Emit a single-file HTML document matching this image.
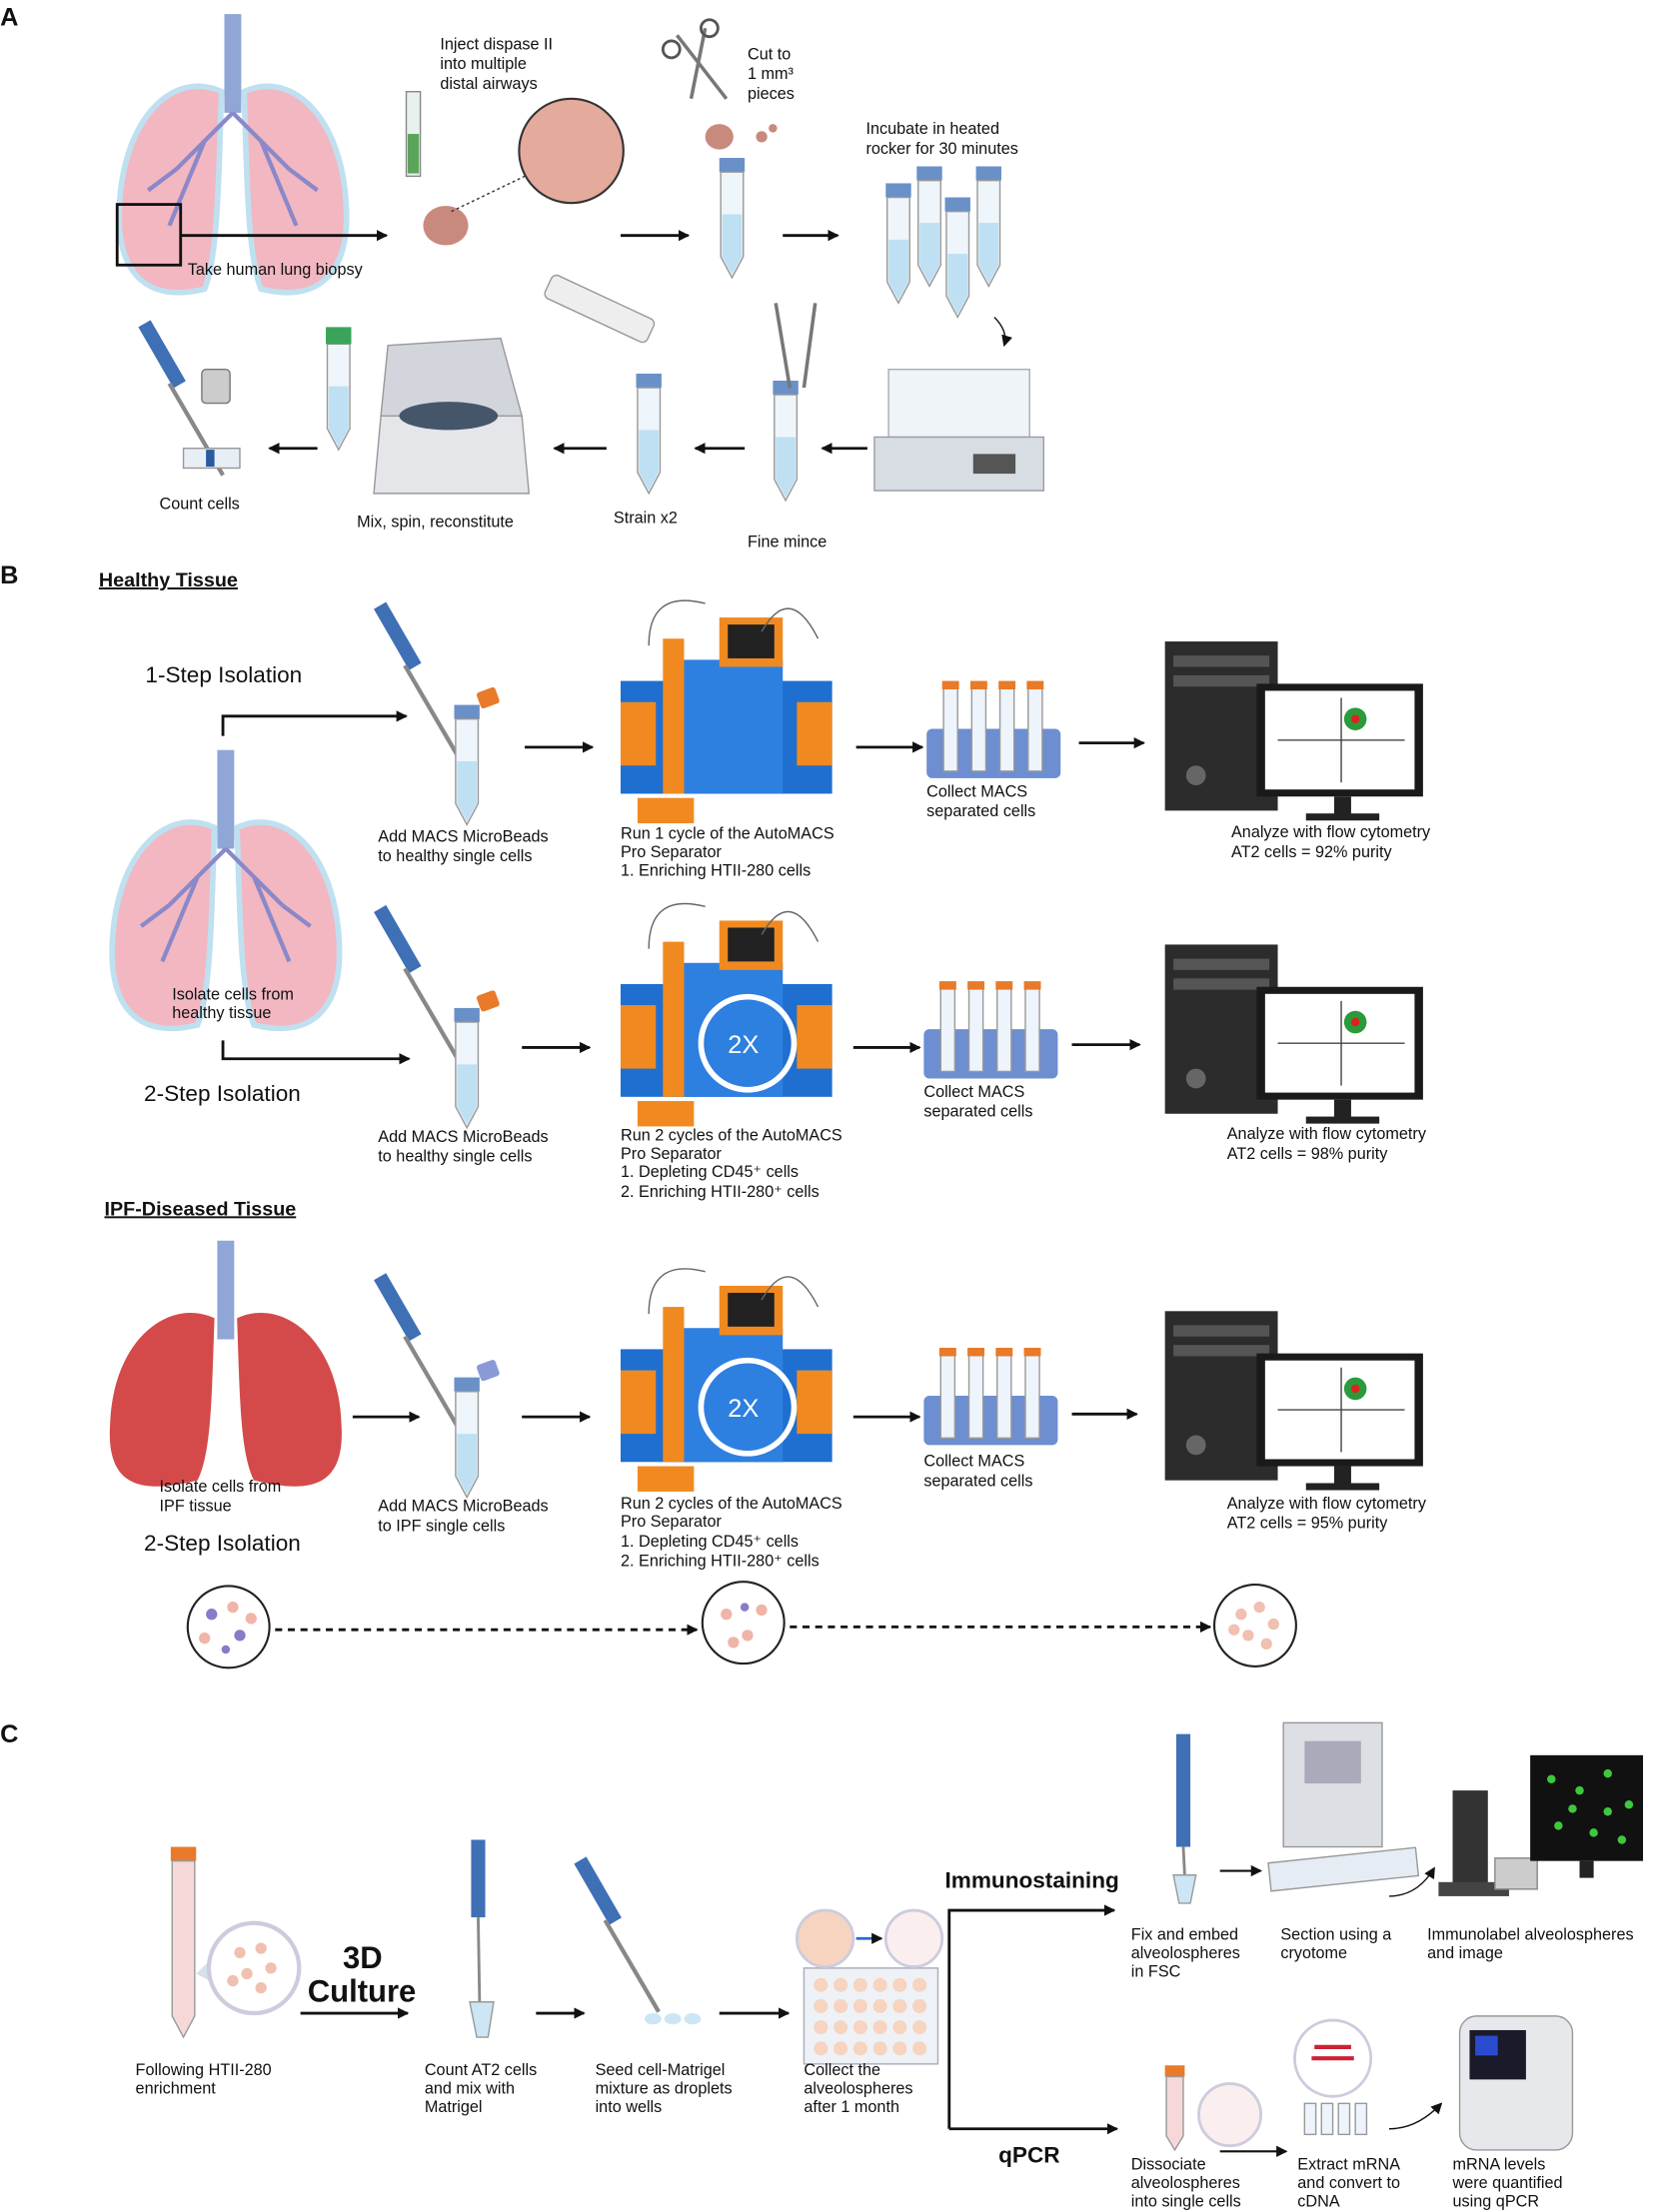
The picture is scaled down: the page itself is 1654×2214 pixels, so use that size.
<!DOCTYPE html>
<html><head><meta charset="utf-8"><style>
html,body{margin:0;padding:0;background:#fff;}
svg{display:block;}
text{font-family:"Liberation Sans",sans-serif;fill:#111;}
.t{font-size:11.5px;}
.h{font-size:16px;}
.b{font-weight:bold;}
</style></head><body>
<svg width="1654" height="2214" viewBox="0 0 1172 1569" xmlns="http://www.w3.org/2000/svg">
<defs>
<marker id="ar" markerWidth="8" markerHeight="8" refX="7" refY="4" orient="auto" markerUnits="userSpaceOnUse"><path d="M0,0 L8,4 L0,8 z" fill="#111"/></marker>
<g id="lung">
 <rect x="-6" y="0" width="12" height="70" fill="#8fa6d6"/>
 <path d="M-8,55 C-40,40 -75,70 -80,130 C-85,185 -60,205 -20,195 C-10,170 -10,110 -8,55z" fill="#f2b7c1" stroke="#bfe0f0" stroke-width="4"/>
 <path d="M8,55 C40,40 75,70 80,130 C85,185 60,205 20,195 C10,170 10,110 8,55z" fill="#f2b7c1" stroke="#bfe0f0" stroke-width="4"/>
 <path d="M0,70 L-40,110 M-20,90 L-45,150 M0,70 L40,110 M20,90 L45,150 M-40,110 L-60,125 M40,110 L60,125" stroke="#8a88c8" stroke-width="3" fill="none"/>
</g>
<g id="tube">
 <rect x="0" y="0" width="18" height="10" fill="#6a90c8"/>
 <path d="M1,10 L17,10 L17,70 L9,85 L1,70z" fill="#eef5fb" stroke="#999"/>
 <path d="M2,40 L16,40 L16,70 L9,83 L2,70z" fill="#bfe0f3"/>
</g>
<g id="pip">
 <rect x="0" y="0" width="10" height="50" fill="#3f6fb5" transform="rotate(-30)"/>
 <line x1="22" y1="40" x2="60" y2="105" stroke="#888" stroke-width="3"/>
</g>
<g id="mach">
 <rect x="0" y="45" width="150" height="80" fill="#1f6fd0"/>
 <rect x="35" y="30" width="80" height="95" fill="#2d7fe0"/>
 <rect x="0" y="60" width="25" height="45" fill="#f08a20"/>
 <rect x="125" y="60" width="25" height="45" fill="#f08a20"/>
 <rect x="70" y="0" width="45" height="35" fill="#f08a20"/><rect x="76" y="5" width="33" height="24" fill="#222"/>
 <rect x="30" y="15" width="15" height="110" fill="#f08a20"/>
 <rect x="12" y="128" width="40" height="18" fill="#f08a20"/>
 <path d="M20,20 Q20,-20 60,-10 M100,10 Q120,-25 140,15" stroke="#666" fill="none"/>
</g>
<g id="rack">
 <rect x="0" y="30" width="95" height="35" rx="4" fill="#6d8ed0"/>
 <g fill="#eef4fb" stroke="#999"><rect x="12" y="0" width="10" height="60"/><rect x="32" y="0" width="10" height="60"/><rect x="52" y="0" width="10" height="60"/><rect x="72" y="0" width="10" height="60"/></g>
 <g fill="#e87a2a"><rect x="11" y="-4" width="12" height="6"/><rect x="31" y="-4" width="12" height="6"/><rect x="51" y="-4" width="12" height="6"/><rect x="71" y="-4" width="12" height="6"/></g>
</g>
<g id="comp">
 <rect x="0" y="0" width="80" height="120" fill="#2c2c2c"/><rect x="6" y="10" width="68" height="8" fill="#555"/><rect x="6" y="24" width="68" height="8" fill="#555"/><circle cx="22" cy="95" r="7" fill="#666"/>
 <rect x="65" y="30" width="118" height="80" fill="#1a1a1a"/><rect x="71" y="35" width="106" height="70" fill="#fff"/>
 <line x1="80" y1="70" x2="170" y2="70" stroke="#444"/><line x1="125" y1="40" x2="125" y2="100" stroke="#444"/>
 <rect x="120" y="110" width="12" height="14" fill="#222"/><rect x="100" y="122" width="52" height="5" fill="#222"/>
 <circle cx="135" cy="55" r="8" fill="#2a9a3a"/><circle cx="135" cy="55" r="3" fill="#e02020"/>
</g>
</defs>

<!-- Section A -->
<text x="0" y="18" class="b" font-size="18">A</text>
<use href="#lung" x="165" y="10"/>
<rect x="83" y="145" width="45" height="43" fill="none" stroke="#111" stroke-width="2"/>
<line x1="128" y1="167" x2="274" y2="167" stroke="#111" stroke-width="2" marker-end="url(#ar)"/>
<text x="133" y="195" class="t">Take human lung biopsy</text>
<rect x="288" y="65" width="10" height="60" fill="#e8f0f0" stroke="#888"/><rect x="289" y="95" width="8" height="28" fill="#5aa55a"/>
<ellipse cx="316" cy="160" rx="16" ry="14" fill="#c98a7e"/>
<circle cx="405" cy="107" r="37" fill="#e4aa9c" stroke="#333" stroke-width="1.5"/>
<line x1="320" y1="150" x2="372" y2="125" stroke="#333" stroke-dasharray="2,2"/>
<text x="312" y="35" class="t">Inject dispase II</text><text x="312" y="49" class="t">into multiple</text><text x="312" y="63" class="t">distal airways</text>
<path d="M480,25 L515,70 M500,20 L490,70" stroke="#777" stroke-width="2.5"/><circle cx="476" cy="35" r="6" fill="none" stroke="#555" stroke-width="2"/><circle cx="503" cy="20" r="6" fill="none" stroke="#555" stroke-width="2"/>
<text x="530" y="42" class="t">Cut to</text><text x="530" y="56" class="t">1 mm³</text><text x="530" y="70" class="t">pieces</text>
<ellipse cx="510" cy="97" rx="10" ry="9" fill="#c98a7e"/><circle cx="540" cy="97" r="4" fill="#c98a7e"/><circle cx="548" cy="91" r="3" fill="#c98a7e"/>
<line x1="440" y1="167" x2="488" y2="167" stroke="#111" stroke-width="2" marker-end="url(#ar)"/>
<use href="#tube" x="510" y="112"/>
<line x1="555" y1="167" x2="594" y2="167" stroke="#111" stroke-width="2" marker-end="url(#ar)"/>
<text x="614" y="95" class="t">Incubate in heated</text><text x="614" y="109" class="t">rocker for 30 minutes</text>
<use href="#tube" x="650" y="118"/><use href="#tube" x="692" y="118"/><use href="#tube" x="628" y="130"/><use href="#tube" x="670" y="140"/>
<path d="M705,225 Q715,235 712,245" stroke="#111" fill="none" marker-end="url(#ar)"/>
<rect x="630" y="262" width="100" height="50" fill="#eef4f8" stroke="#aab"/><rect x="620" y="310" width="120" height="38" fill="#d8dde3" stroke="#99a"/><rect x="690" y="322" width="30" height="14" fill="#555"/>
<line x1="615" y1="318" x2="583" y2="318" stroke="#111" stroke-width="2" marker-end="url(#ar)"/>
<use href="#tube" x="548" y="270"/><path d="M560,275 L550,215 M570,275 L578,215" stroke="#777" stroke-width="2.5"/>
<text x="530" y="388" class="t">Fine mince</text>
<line x1="528" y1="318" x2="493" y2="318" stroke="#111" stroke-width="2" marker-end="url(#ar)"/>
<rect x="385" y="210" width="80" height="18" rx="4" fill="#eee" stroke="#999" transform="rotate(25 425 219)"/>
<use href="#tube" x="451" y="265"/>
<text x="435" y="371" class="t">Strain x2</text>
<line x1="430" y1="318" x2="393" y2="318" stroke="#111" stroke-width="2" marker-end="url(#ar)"/>
<path d="M270,295 L370,295 L375,350 L265,350z" fill="#e4e6ea" stroke="#999"/><path d="M275,245 L355,240 L370,295 L270,295z" fill="#d2d6dc" stroke="#999"/><ellipse cx="318" cy="295" rx="35" ry="10" fill="#46566a"/>
<use href="#tube" x="231" y="234"/><rect x="231" y="232" width="18" height="12" fill="#3aa55a"/>
<text x="253" y="374" class="t">Mix, spin, reconstitute</text>
<line x1="225" y1="318" x2="191" y2="318" stroke="#111" stroke-width="2" marker-end="url(#ar)"/>
<use href="#pip" x="98" y="232"/><rect x="143" y="262" width="20" height="24" rx="3" fill="#ccc" stroke="#777"/>
<rect x="130" y="318" width="40" height="14" fill="#e8eef5" stroke="#999"/><rect x="146" y="319" width="6" height="12" fill="#2a5aa0"/>
<text x="113" y="361" class="t">Count cells</text>

<!-- Section B -->
<text x="0" y="414" class="b" font-size="18">B</text>
<text x="70" y="416" class="b" font-size="14" text-decoration="underline">Healthy Tissue</text>
<text x="103" y="484" class="h">1-Step Isolation</text>
<use href="#lung" x="160" y="532"/>
<text x="122" y="709" class="t">Isolate cells from</text><text x="122" y="722" class="t">healthy tissue</text>
<path d="M158,522 L158,508 L288,508" stroke="#111" stroke-width="2" fill="none" marker-end="url(#ar)"/>
<path d="M158,738 L158,751 L290,751" stroke="#111" stroke-width="2" fill="none" marker-end="url(#ar)"/>
<text x="102" y="781" class="h">2-Step Isolation</text>

<use href="#pip" x="265" y="432"/><rect x="339" y="489" width="14" height="12" rx="2" fill="#e87a2a" transform="rotate(-20 346 495)"/><use href="#tube" x="322" y="500"/>
<line x1="372" y1="530" x2="420" y2="530" stroke="#111" stroke-width="2" marker-end="url(#ar)"/>
<use href="#mach" x="440" y="438"/>
<line x1="607" y1="530" x2="654" y2="530" stroke="#111" stroke-width="2" marker-end="url(#ar)"/>
<use href="#rack" x="657" y="487"/>
<line x1="765" y1="527" x2="811" y2="527" stroke="#111" stroke-width="2" marker-end="url(#ar)"/>
<use href="#comp" x="826" y="455"/>
<text x="268" y="597" class="t">Add MACS MicroBeads</text><text x="268" y="611" class="t">to healthy single cells</text>
<text x="440" y="595" class="t">Run 1 cycle of the AutoMACS</text><text x="440" y="608" class="t">Pro Separator</text><text x="440" y="621" class="t">1. Enriching HTII-280 cells</text>
<text x="657" y="565" class="t">Collect MACS</text><text x="657" y="579" class="t">separated cells</text>
<text x="873" y="594" class="t">Analyze with flow cytometry</text><text x="873" y="608" class="t">AT2 cells = 92% purity</text>

<use href="#pip" x="265" y="647"/><rect x="339" y="704" width="14" height="12" rx="2" fill="#e87a2a" transform="rotate(-20 346 710)"/><use href="#tube" x="322" y="715"/>
<line x1="370" y1="743" x2="418" y2="743" stroke="#111" stroke-width="2" marker-end="url(#ar)"/>
<use href="#mach" x="440" y="653"/>
<circle cx="530" cy="740" r="33" fill="none" stroke="#fff" stroke-width="4"/><text x="516" y="747" font-size="18" style="fill:#fff">2X</text>
<line x1="605" y1="743" x2="652" y2="743" stroke="#111" stroke-width="2" marker-end="url(#ar)"/>
<use href="#rack" x="655" y="700"/>
<line x1="760" y1="741" x2="808" y2="741" stroke="#111" stroke-width="2" marker-end="url(#ar)"/>
<use href="#comp" x="826" y="670"/>
<text x="268" y="810" class="t">Add MACS MicroBeads</text><text x="268" y="824" class="t">to healthy single cells</text>
<text x="440" y="809" class="t">Run 2 cycles of the AutoMACS</text><text x="440" y="822" class="t">Pro Separator</text><text x="440" y="835" class="t">1. Depleting CD45⁺ cells</text><text x="440" y="849" class="t">2. Enriching HTII-280⁺ cells</text>
<text x="655" y="778" class="t">Collect MACS</text><text x="655" y="792" class="t">separated cells</text>
<text x="870" y="808" class="t">Analyze with flow cytometry</text><text x="870" y="822" class="t">AT2 cells = 98% purity</text>

<text x="74" y="862" class="b" font-size="14" text-decoration="underline">IPF-Diseased Tissue</text>
<g transform="translate(160,880)">
 <rect x="-6" y="0" width="12" height="70" fill="#8fa6d6"/>
 <path d="M-8,55 C-40,40 -80,70 -82,130 C-85,175 -60,180 -20,170 C-10,150 -10,110 -8,55z" fill="#d44a4a"/>
 <path d="M8,55 C40,40 80,70 82,130 C85,175 60,180 20,170 C10,150 10,110 8,55z" fill="#d44a4a"/>
</g>
<text x="113" y="1058" class="t">Isolate cells from</text><text x="113" y="1072" class="t">IPF tissue</text>
<text x="102" y="1100" class="h">2-Step Isolation</text>
<line x1="250" y1="1005" x2="297" y2="1005" stroke="#111" stroke-width="2" marker-end="url(#ar)"/>
<use href="#pip" x="265" y="908"/><rect x="339" y="966" width="14" height="12" rx="2" fill="#8a9ad6" transform="rotate(-20 346 972)"/><use href="#tube" x="322" y="977"/>
<line x1="370" y1="1005" x2="418" y2="1005" stroke="#111" stroke-width="2" marker-end="url(#ar)"/>
<use href="#mach" x="440" y="912"/>
<circle cx="530" cy="998" r="33" fill="none" stroke="#fff" stroke-width="4"/><text x="516" y="1005" font-size="18" style="fill:#fff">2X</text>
<line x1="605" y1="1005" x2="652" y2="1005" stroke="#111" stroke-width="2" marker-end="url(#ar)"/>
<use href="#rack" x="655" y="960"/>
<line x1="760" y1="1003" x2="806" y2="1003" stroke="#111" stroke-width="2" marker-end="url(#ar)"/>
<use href="#comp" x="826" y="930"/>
<text x="268" y="1072" class="t">Add MACS MicroBeads</text><text x="268" y="1086" class="t">to IPF single cells</text>
<text x="440" y="1070" class="t">Run 2 cycles of the AutoMACS</text><text x="440" y="1083" class="t">Pro Separator</text><text x="440" y="1097" class="t">1. Depleting CD45⁺ cells</text><text x="440" y="1111" class="t">2. Enriching HTII-280⁺ cells</text>
<text x="655" y="1040" class="t">Collect MACS</text><text x="655" y="1054" class="t">separated cells</text>
<text x="870" y="1070" class="t">Analyze with flow cytometry</text><text x="870" y="1084" class="t">AT2 cells = 95% purity</text>
<circle cx="162" cy="1154" r="29" fill="#fff" stroke="#222" stroke-width="1.5"/>
<g fill="#8a7ac8"><circle cx="150" cy="1145" r="4"/><circle cx="170" cy="1160" r="4"/><circle cx="160" cy="1170" r="3"/></g><g fill="#f0b4a8"><circle cx="165" cy="1140" r="4"/><circle cx="145" cy="1162" r="4"/><circle cx="178" cy="1148" r="4"/></g>
<line x1="195" y1="1156" x2="494" y2="1156" stroke="#111" stroke-width="2" stroke-dasharray="5,4" marker-end="url(#ar)"/>
<circle cx="527" cy="1151" r="29" fill="#fff" stroke="#222" stroke-width="1.5"/>
<g fill="#f0b4a8"><circle cx="515" cy="1145" r="4"/><circle cx="530" cy="1160" r="4"/><circle cx="540" cy="1142" r="4"/><circle cx="520" cy="1165" r="4"/></g><circle cx="528" cy="1140" r="3" fill="#8a7ac8"/>
<line x1="560" y1="1154" x2="858" y2="1154" stroke="#111" stroke-width="2" stroke-dasharray="5,4" marker-end="url(#ar)"/>
<circle cx="890" cy="1153" r="29" fill="#fff" stroke="#222" stroke-width="1.5"/>
<g fill="#f0c0b0"><circle cx="880" cy="1145" r="4"/><circle cx="893" cy="1140" r="4"/><circle cx="903" cy="1152" r="4"/><circle cx="885" cy="1160" r="4"/><circle cx="898" cy="1166" r="4"/><circle cx="875" cy="1156" r="4"/></g>

<!-- Section C -->
<text x="0" y="1236" class="b" font-size="18">C</text>
<rect x="121" y="1310" width="18" height="10" fill="#e87a2a"/><path d="M122,1320 L138,1320 L138,1430 L130,1445 L122,1430z" fill="#f7d8d8" stroke="#999"/>
<path d="M139,1400 L160,1380 L162,1412z" fill="#bcd" opacity=".6"/>
<circle cx="180" cy="1396" r="32" fill="#fff" stroke="#ccd" stroke-width="3"/>
<g fill="#f0c0b0"><circle cx="170" cy="1385" r="4"/><circle cx="185" cy="1382" r="4"/><circle cx="192" cy="1396" r="4"/><circle cx="175" cy="1400" r="4"/><circle cx="185" cy="1410" r="4"/><circle cx="165" cy="1405" r="4"/></g>
<text x="96" y="1472" class="t">Following HTII-280</text><text x="96" y="1485" class="t">enrichment</text>
<text x="243" y="1396" class="b" font-size="22">3D</text><text x="218" y="1420" class="b" font-size="22">Culture</text>
<line x1="213" y1="1428" x2="289" y2="1428" stroke="#111" stroke-width="2" marker-end="url(#ar)"/>
<rect x="334" y="1305" width="10" height="55" fill="#3f6fb5"/><line x1="339" y1="1360" x2="340" y2="1420" stroke="#888" stroke-width="2"/>
<path d="M333,1420 L350,1420 L346,1445 L338,1445z" fill="#cde6f5" stroke="#999"/>
<text x="301" y="1472" class="t">Count AT2 cells</text><text x="301" y="1485" class="t">and mix with</text><text x="301" y="1498" class="t">Matrigel</text>
<line x1="380" y1="1428" x2="414" y2="1428" stroke="#111" stroke-width="2" marker-end="url(#ar)"/>
<use href="#pip" x="407" y="1322"/>
<g fill="#cde6f5"><ellipse cx="463" cy="1432" rx="6" ry="4"/><ellipse cx="477" cy="1432" rx="6" ry="4"/><ellipse cx="491" cy="1432" rx="6" ry="4"/></g>
<text x="422" y="1472" class="t">Seed cell-Matrigel</text><text x="422" y="1485" class="t">mixture as droplets</text><text x="422" y="1498" class="t">into wells</text>
<line x1="510" y1="1428" x2="559" y2="1428" stroke="#111" stroke-width="2" marker-end="url(#ar)"/>
<rect x="570" y="1396" width="95" height="68" fill="#eef2f6" stroke="#aab"/>
<g fill="#f6d4c0">
<circle cx="582" cy="1408" r="5"/><circle cx="596" cy="1408" r="5"/><circle cx="610" cy="1408" r="5"/><circle cx="624" cy="1408" r="5"/><circle cx="638" cy="1408" r="5"/><circle cx="652" cy="1408" r="5"/>
<circle cx="582" cy="1423" r="5"/><circle cx="596" cy="1423" r="5"/><circle cx="610" cy="1423" r="5"/><circle cx="624" cy="1423" r="5"/><circle cx="638" cy="1423" r="5"/><circle cx="652" cy="1423" r="5"/>
<circle cx="582" cy="1438" r="5"/><circle cx="596" cy="1438" r="5"/><circle cx="610" cy="1438" r="5"/><circle cx="624" cy="1438" r="5"/><circle cx="638" cy="1438" r="5"/><circle cx="652" cy="1438" r="5"/>
<circle cx="582" cy="1453" r="5"/><circle cx="596" cy="1453" r="5"/><circle cx="610" cy="1453" r="5"/><circle cx="624" cy="1453" r="5"/><circle cx="638" cy="1453" r="5"/><circle cx="652" cy="1453" r="5"/></g>
<circle cx="585" cy="1375" r="20" fill="#f6d4c0" stroke="#ccd" stroke-width="2"/><circle cx="648" cy="1375" r="20" fill="#fbeeee" stroke="#ccd" stroke-width="2"/>
<line x1="607" y1="1375" x2="625" y2="1375" stroke="#2a6acb" stroke-width="2" marker-end="url(#ar)"/>
<text x="570" y="1472" class="t">Collect the</text><text x="570" y="1485" class="t">alveolospheres</text><text x="570" y="1498" class="t">after 1 month</text>
<path d="M673,1510 L673,1355 L790,1355" stroke="#111" stroke-width="2" fill="none" marker-end="url(#ar)"/>
<path d="M673,1510 L792,1510" stroke="#111" stroke-width="2" fill="none" marker-end="url(#ar)"/>
<text x="670" y="1339" class="b" font-size="16">Immunostaining</text>
<text x="708" y="1534" class="b" font-size="16">qPCR</text>
<rect x="834" y="1230" width="10" height="80" fill="#3f6fb5"/><line x1="839" y1="1310" x2="840" y2="1330" stroke="#888" stroke-width="2"/><path d="M832,1330 L848,1330 L844,1350 L836,1350z" fill="#cde6f5" stroke="#999"/>
<text x="802" y="1376" class="t">Fix and embed</text><text x="802" y="1389" class="t">alveolospheres</text><text x="802" y="1402" class="t">in FSC</text>
<line x1="865" y1="1327" x2="894" y2="1327" stroke="#111" stroke-width="1.5" marker-end="url(#ar)"/>
<rect x="910" y="1222" width="70" height="88" fill="#dcdfe3" stroke="#999"/><rect x="925" y="1235" width="40" height="30" fill="#aab"/>
<rect x="900" y="1316" width="105" height="20" fill="#e6ecf3" stroke="#999" transform="rotate(-6 952 1326)"/>
<text x="908" y="1376" class="t">Section using a</text><text x="908" y="1389" class="t">cryotome</text>
<path d="M985,1345 Q1005,1345 1017,1325" stroke="#111" fill="none" marker-end="url(#ar)"/>
<rect x="1030" y="1270" width="25" height="70" fill="#333"/><rect x="1020" y="1335" width="50" height="10" fill="#444"/><rect x="1060" y="1318" width="30" height="22" fill="#ccc" stroke="#888"/>
<rect x="1085" y="1245" width="80" height="75" fill="#111"/>
<g fill="#3ec83e"><circle cx="1100" cy="1262" r="3"/><circle cx="1120" cy="1270" r="3"/><circle cx="1140" cy="1258" r="3"/><circle cx="1155" cy="1280" r="3"/><circle cx="1105" cy="1295" r="3"/><circle cx="1130" cy="1300" r="3"/><circle cx="1150" cy="1305" r="3"/><circle cx="1115" cy="1283" r="3"/><circle cx="1140" cy="1285" r="3"/></g>
<rect x="1120" y="1320" width="10" height="12" fill="#222"/>
<text x="1012" y="1376" class="t">Immunolabel alveolospheres</text><text x="1012" y="1389" class="t">and image</text>
<rect x="826" y="1465" width="14" height="8" fill="#e87a2a"/><path d="M827,1473 L839,1473 L839,1515 L833,1525 L827,1515z" fill="#f7d8d8" stroke="#999"/>
<circle cx="872" cy="1500" r="22" fill="#fbeeee" stroke="#ccd" stroke-width="2"/>
<text x="802" y="1539" class="t">Dissociate</text><text x="802" y="1552" class="t">alveolospheres</text><text x="802" y="1565" class="t">into single cells</text>
<line x1="865" y1="1526" x2="912" y2="1526" stroke="#111" stroke-width="1.5" marker-end="url(#ar)"/>
<circle cx="945" cy="1460" r="27" fill="#fff" stroke="#ccd" stroke-width="2"/>
<path d="M930,1460 L960,1460 M932,1452 L958,1452" stroke="#c23" stroke-width="3"/>
<g fill="#eef4fb" stroke="#999"><rect x="925" y="1492" width="8" height="22"/><rect x="937" y="1492" width="8" height="22"/><rect x="949" y="1492" width="8" height="22"/><rect x="961" y="1492" width="8" height="22"/></g>
<text x="920" y="1539" class="t">Extract mRNA</text><text x="920" y="1552" class="t">and convert to</text><text x="920" y="1565" class="t">cDNA</text>
<path d="M985,1510 Q1005,1510 1022,1492" stroke="#111" fill="none" marker-end="url(#ar)"/>
<rect x="1035" y="1430" width="80" height="95" rx="12" fill="#e6e8ec" stroke="#999"/><rect x="1042" y="1440" width="40" height="35" fill="#1a1a2a"/><rect x="1046" y="1444" width="16" height="14" fill="#2a4ad0"/>
<text x="1030" y="1539" class="t">mRNA levels</text><text x="1030" y="1552" class="t">were quantified</text><text x="1030" y="1565" class="t">using qPCR</text>
</svg>
</body></html>
